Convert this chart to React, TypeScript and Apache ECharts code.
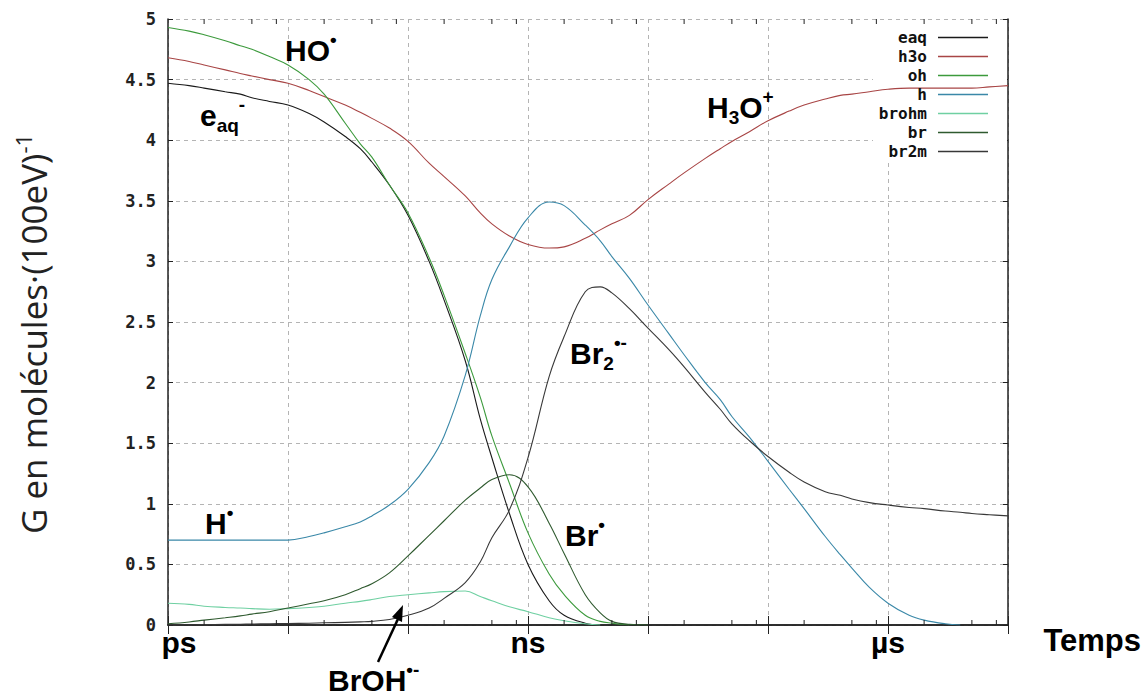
import React, { useEffect, useRef } from "react";
import * as echarts from "echarts";

// time grid (seconds)
const times = [
  1e-12, 1.5e-12, 2e-12, 3e-12, 4e-12, 5e-12, 7e-12,
  1e-11, 1.5e-11, 2e-11, 3e-11, 4e-11, 5e-11, 7e-11,
  1e-10, 1.5e-10, 2e-10, 3e-10, 4e-10, 5e-10, 7e-10,
  1e-9, 1.5e-9, 2e-9, 3e-9, 4e-9, 5e-9, 7e-9,
  1e-8, 1.5e-8, 2e-8, 3e-8, 4e-8, 5e-8, 7e-8,
  1e-7, 1.5e-7, 2e-7, 3e-7, 4e-7, 5e-7, 7e-7,
  1e-6, 1.5e-6, 2e-6, 3e-6, 4e-6, 5e-6, 7e-6,
  1e-5,
];

const eaq = [
  4.47, 4.45, 4.43, 4.40, 4.38, 4.35, 4.32,
  4.29, 4.22, 4.15, 4.03, 3.93, 3.82, 3.63,
  3.38, 3.00, 2.68, 2.18, 1.70, 1.38, 0.92,
  0.50, 0.20, 0.08, 0.015, 0,
];
const h3o = [
  4.68, 4.65, 4.62, 4.58, 4.55, 4.53, 4.50,
  4.47, 4.41, 4.36, 4.29, 4.23, 4.18, 4.10,
  3.99, 3.81, 3.70, 3.54, 3.40, 3.31, 3.21,
  3.14, 3.11, 3.12, 3.19, 3.26, 3.31, 3.38,
  3.51, 3.64, 3.73, 3.85, 3.93, 3.99, 4.07,
  4.16, 4.24, 4.29, 4.34, 4.37, 4.38, 4.40,
  4.42, 4.43, 4.43, 4.43, 4.43, 4.43, 4.44,
  4.45,
];
const oh = [
  4.93, 4.90, 4.87, 4.82, 4.78, 4.75, 4.69,
  4.62, 4.50, 4.38, 4.14, 3.97, 3.86, 3.63,
  3.40, 3.03, 2.72, 2.24, 1.88, 1.56, 1.17,
  0.76, 0.42, 0.25, 0.08, 0.03, 0.015, 0,
];
const h = [
  0.70, 0.70, 0.70, 0.70, 0.70, 0.70, 0.70,
  0.70, 0.73, 0.76, 0.81, 0.85, 0.90, 0.99,
  1.12, 1.34, 1.56, 2.06, 2.55, 2.85, 3.12,
  3.36, 3.49, 3.46, 3.30, 3.17, 3.04, 2.86,
  2.64, 2.40, 2.23, 2.00, 1.86, 1.72, 1.55,
  1.35, 1.12, 0.96, 0.73, 0.58, 0.47, 0.31,
  0.18, 0.08, 0.04, 0.01, 0,
];
const brohm = [
  0.18, 0.17, 0.155, 0.145, 0.14, 0.135, 0.13,
  0.135, 0.145, 0.155, 0.18, 0.195, 0.21, 0.235,
  0.25, 0.265, 0.275, 0.28, 0.235, 0.20, 0.15,
  0.11, 0.06, 0.035, 0.01, 0,
];
const br = [
  0.01, 0.025, 0.04, 0.06, 0.075, 0.09, 0.11,
  0.14, 0.175, 0.20, 0.25, 0.30, 0.34, 0.43,
  0.57, 0.74, 0.86, 1.03, 1.13, 1.20, 1.24,
  1.14, 0.84, 0.59, 0.25, 0.10, 0.03, 0.005,
  0,
];
const br2m = [
  0, 0, 0.003, 0.005, 0.006, 0.008, 0.01,
  0.012, 0.015, 0.018, 0.022, 0.026, 0.03, 0.045,
  0.08, 0.14, 0.22, 0.35, 0.52, 0.72, 0.95,
  1.38, 2.05, 2.38, 2.75, 2.79, 2.74, 2.61,
  2.45, 2.27, 2.13, 1.92, 1.78, 1.66, 1.52,
  1.39, 1.26, 1.18, 1.10, 1.07, 1.04, 1.01,
  0.99, 0.97, 0.96, 0.94, 0.93, 0.92, 0.91,
  0.90,
];

const seriesNames = ["eaq", "h3o", "oh", "h", "brohm", "br", "br2m"];
const seriesValues = [eaq, h3o, oh, h, brohm, br, br2m];
const seriesColors = ["#1a1a1a", "#a84545", "#3c9a3c", "#3a88a8", "#6fd0a2", "#2f5a2f", "#383838"];

const minorTickTimes = [
  2e-12, 5e-12, 8e-12, 2e-11, 5e-11, 8e-11, 2e-10, 5e-10, 8e-10,
  2e-9, 5e-9, 8e-9, 2e-8, 5e-8, 8e-8, 2e-7, 5e-7, 8e-7, 2e-6, 5e-6, 8e-6,
];

const xLabelByExponent: Record<number, string> = { [-12]: "{p|ps}", [-9]: "ns", [-6]: "µs" };

const BIG = "Liberation Sans, Arial, sans-serif";
const MONO = "DejaVu Sans Mono, monospace";

const richAnn = {
  b: { fontSize: 30, fontWeight: "bold", fontFamily: BIG, fill: "#000", lineHeight: 40 },
  sub: { fontSize: 19, fontWeight: "bold", fontFamily: BIG, fill: "#000", lineHeight: 22, verticalAlign: "bottom" },
  sup: { fontSize: 19, fontWeight: "bold", fontFamily: BIG, fill: "#000", lineHeight: 22, verticalAlign: "top" },
};

const annotations = [
  { text: "{b|HO}{sup|•}", x: 285, y: 50 },
  { text: "{b|e}{sub|aq}{sup|-}", x: 200, y: 115 },
  { text: "{b|H}{sub|3}{b|O}{sup|+}", x: 707, y: 107 },
  { text: "{b|Br}{sub|2}{sup|•-}", x: 570, y: 353 },
  { text: "{b|Br}{sup|•}", x: 565, y: 535 },
  { text: "{b|H}{sup|•}", x: 205, y: 523 },
  { text: "{b|BrOH}{sup|•-}", x: 328, y: 680 },
];

export default function App() {
  const ref = useRef<HTMLDivElement>(null);
  useEffect(() => {
    const chart = echarts.init(ref.current!, null, { renderer: "svg" });
    const lineSeries = seriesNames.map((name, i) => ({
      name,
      type: "line",
      xAxisIndex: 0,
      yAxisIndex: 0,
      data: seriesValues[i].map((v, j) => [times[j], v]),
      showSymbol: false,
      symbol: "none",
      smooth: 0.4,
      lineStyle: { width: 1.1, color: seriesColors[i] },
      itemStyle: { color: seriesColors[i] },
      emphasis: { disabled: true },
      silent: true,
      z: 2,
    }));
    const tickSeries = {
      type: "custom",
      xAxisIndex: 0,
      yAxisIndex: 0,
      silent: true,
      z: 3,
      clip: false,
      data: minorTickTimes.map((t) => [t, 0]),
      renderItem: (_params: any, api: any) => {
        const t = api.value(0);
        const pb = api.coord([t, 0]);
        const pt = api.coord([t, 5]);
        return {
          type: "group",
          children: [
            { type: "line", shape: { x1: pb[0], y1: pb[1], x2: pb[0], y2: pb[1] - 5 }, style: { stroke: "#222", lineWidth: 1 } },
            { type: "line", shape: { x1: pt[0], y1: pt[1], x2: pt[0], y2: pt[1] + 5 }, style: { stroke: "#222", lineWidth: 1 } },
          ],
        };
      },
    };

    const axisLine = { show: true, lineStyle: { color: "#222", width: 1.5 } };
    const dashed = { show: true, lineStyle: { color: "#b4b4b4", type: [4, 4], width: 1 } };

    const option: any = {
      animation: false,
      backgroundColor: "#fff",
      grid: { left: 168, right: 137, top: 19, bottom: 75, containLabel: false, outerBoundsMode: "none" },
      legend: {
        data: seriesNames,
        orient: "vertical",
        right: 157,
        top: 28,
        align: "right",
        itemWidth: 50,
        itemHeight: 1.5,
        itemGap: 0,
        icon: "rect",
        padding: 0,
        selectedMode: false,
        textStyle: { fontFamily: MONO, fontWeight: "bold", fontSize: 16, color: "#111", lineHeight: 19, padding: [0, 6, 0, 0] },
      },
      xAxis: [
        {
          type: "log",
          logBase: 10,
          min: 1e-12,
          max: 1e-5,
          position: "bottom",
          axisLine,
          axisTick: { show: true, inside: true, length: 9, lineStyle: { color: "#222" } },
          splitLine: dashed,
          axisLabel: {
            show: true,
            margin: 2,
            showMinLabel: true,
            showMaxLabel: true,
            fontFamily: BIG,
            fontWeight: "bold",
            fontSize: 30,
            lineHeight: 30,
            color: "#000",
            formatter: (v: number) => xLabelByExponent[Math.round(Math.log10(v))] || "",
            rich: { p: { fontFamily: BIG, fontWeight: "bold", fontSize: 30, lineHeight: 30, color: "#000", padding: [0, 0, 0, 22] } },
          },
        },
        {
          type: "log",
          logBase: 10,
          min: 1e-12,
          max: 1e-5,
          position: "top",
          axisLine,
          axisTick: { show: true, inside: true, length: 9, lineStyle: { color: "#222" } },
          splitLine: { show: false },
          axisLabel: { show: false },
        },
      ],
      yAxis: [
        {
          type: "value",
          min: 0,
          max: 5,
          interval: 0.5,
          position: "left",
          axisLine,
          axisTick: { show: true, inside: true, length: 5, lineStyle: { color: "#222" } },
          splitLine: dashed,
          axisLabel: {
            margin: 12,
            fontFamily: MONO,
            fontWeight: "bold",
            fontSize: 17,
            color: "#222",
            formatter: (v: number) => (v === 0 ? "0" : String(v)),
          },
          name: "{a|G en molécules·(100eV)}{s|-1}",
          nameLocation: "middle",
          nameRotate: 90,
          nameGap: 114,
          nameTextStyle: {
            padding: [0, 24, 0, 0],
            rich: {
              a: { fontFamily: "Open Sans", fontSize: 35, color: "#222", lineHeight: 42 },
              s: { fontFamily: "Open Sans", fontSize: 22, color: "#222", lineHeight: 16, verticalAlign: "top" },
            },
          },
        },
        {
          type: "value",
          min: 0,
          max: 5,
          interval: 0.5,
          position: "right",
          axisLine,
          axisTick: { show: true, inside: true, length: 5, lineStyle: { color: "#222" } },
          splitLine: { show: false },
          axisLabel: { show: false },
        },
      ],
      graphic: [
        { type: "rect", z: 1, silent: true, shape: { x: 873, y: 20, width: 134, height: 140 }, style: { fill: "#fff" } },
        ...annotations.map((a) => ({
          type: "text",
          x: a.x,
          y: a.y,
          z: 10,
          silent: true,
          style: { text: a.text, rich: richAnn, align: "left", verticalAlign: "middle", fill: "#000" },
        })),
        {
          type: "text",
          x: 1141,
          y: 640,
          z: 10,
          silent: true,
          style: { text: "Temps", fontFamily: BIG, fontWeight: "bold", fontSize: 31, fill: "#000", align: "right", verticalAlign: "middle" },
        },
        { type: "line", z: 10, silent: true, shape: { x1: 378, y1: 662, x2: 398, y2: 619 }, style: { stroke: "#000", lineWidth: 2.5 } },
        {
          type: "polygon",
          z: 10,
          silent: true,
          shape: { points: [[403, 605], [402, 622], [392, 617]] },
          style: { fill: "#000" },
        },
      ],
      series: [...lineSeries, tickSeries],
    };
    chart.setOption(option);
    return () => chart.dispose();
  }, []);
  return <div ref={ref} style={{ width: 1145, height: 700, position: "absolute", left: 0, top: 0 }} />;
}
